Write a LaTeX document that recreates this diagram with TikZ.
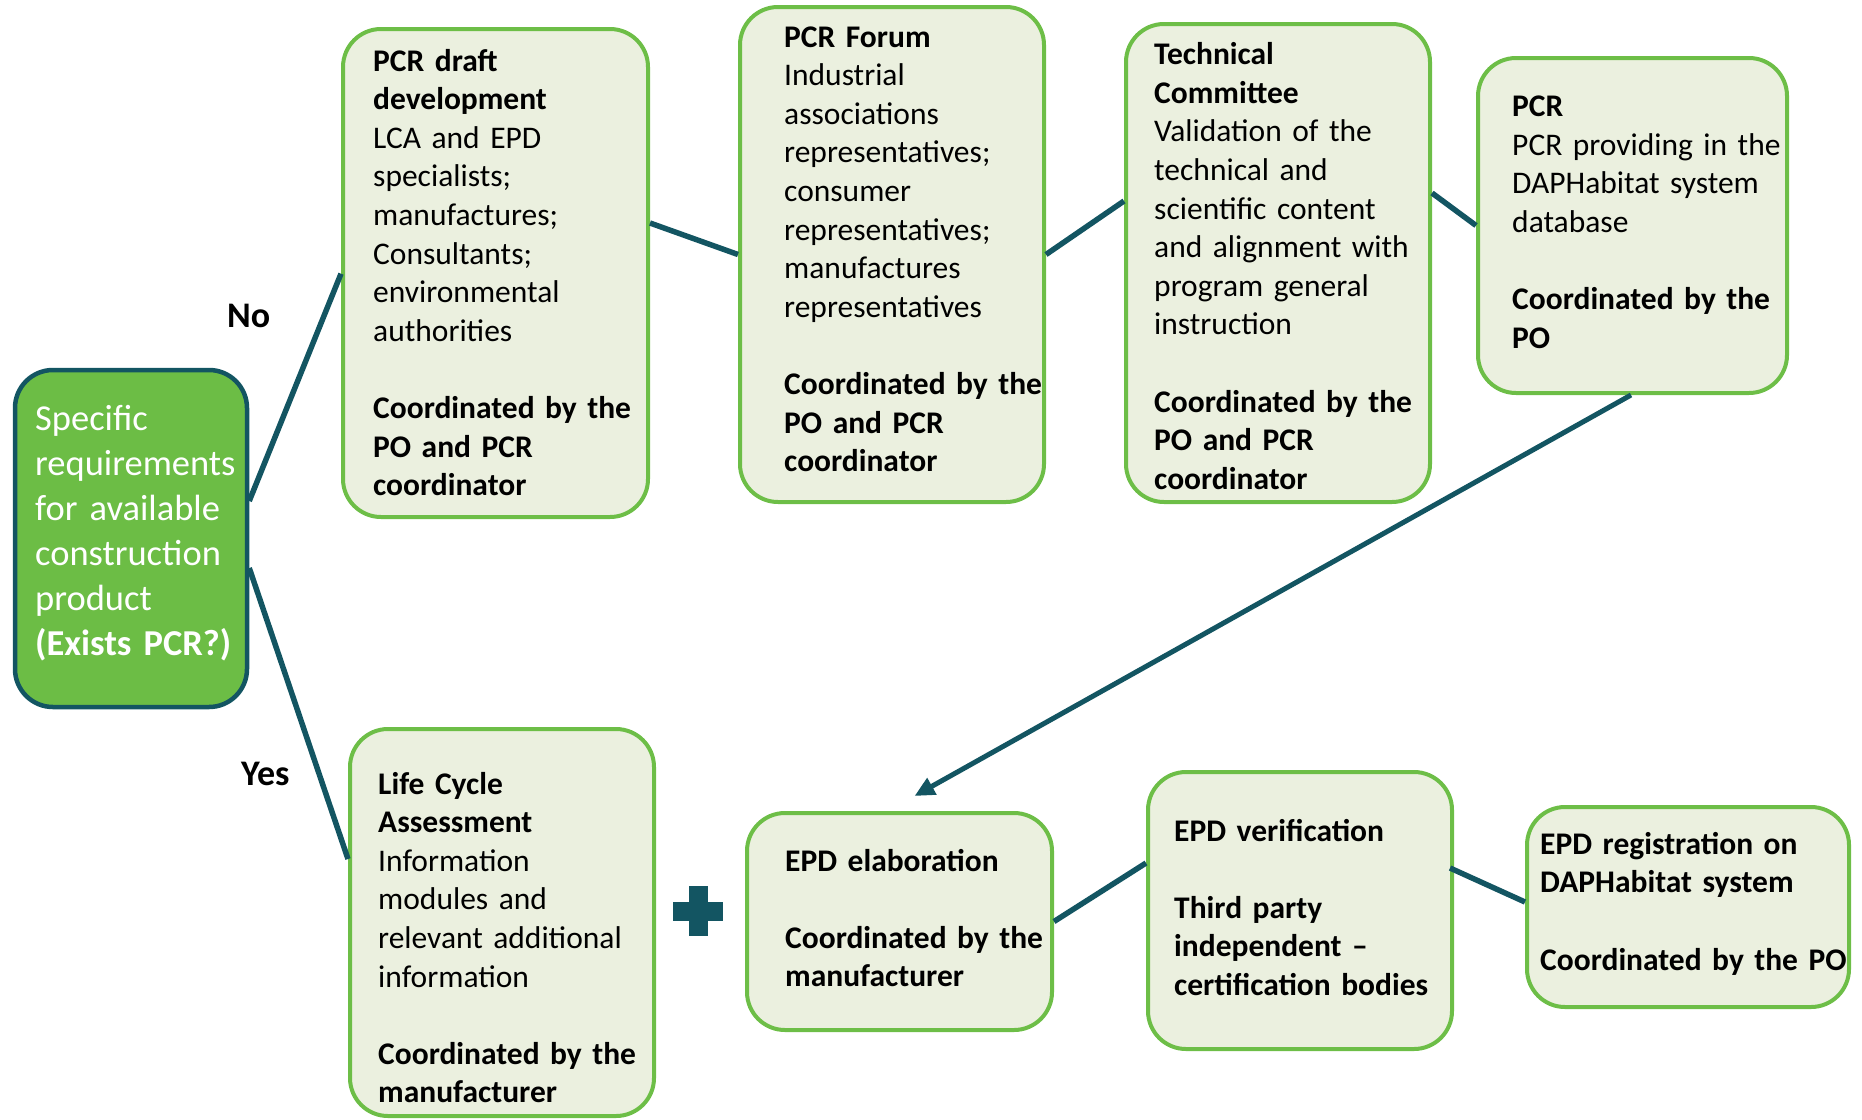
\documentclass[tikz,border=0pt]{standalone}
\usepackage{fontspec}
\setmainfont{Carlito}
\usetikzlibrary{arrows.meta}
\definecolor{boxfill}{HTML}{EBF0DF}
\definecolor{boxline}{HTML}{6DBE47}
\definecolor{connc}{HTML}{135562}
\definecolor{startfill}{HTML}{6CBD45}
\begin{document}
\begin{tikzpicture}[x=1pt,y=-1pt,
  box/.style={draw=boxline, line width=4pt, fill=boxfill, rounded corners=38pt, inner sep=0pt},
  txt/.style={anchor=base west, align=left, text width=330pt, inner sep=0pt, font=\fontsize{31.5}{38.6}\selectfont},
  conn/.style={draw=connc, line width=5.5pt},
  lbl/.style={anchor=base west, inner sep=0pt, font=\fontsize{36}{44}\selectfont\bfseries}
]
\useasboundingbox (0,0) rectangle (1862,1119);

% boxes
\node[box, fill=startfill, draw=connc, line width=4.5pt, minimum width=232pt, minimum height=337pt] (start) at (131,538.5) {};
\node[box, minimum width=305pt, minimum height=488pt] (pcrdraft) at (495.5,273) {};
\node[box, minimum width=304pt, minimum height=495pt] (forum) at (892,254.5) {};
\node[box, minimum width=304pt, minimum height=478pt] (tc) at (1278,263) {};
\node[box, minimum width=309pt, minimum height=335pt] (pcr) at (1632.5,225.5) {};
\node[box, minimum width=304pt, minimum height=387pt] (lca) at (502,922.5) {};
\node[box, minimum width=305pt, minimum height=217pt] (epdel) at (899.5,921.5) {};
\node[box, minimum width=304pt, minimum height=277pt] (verif) at (1300,910.5) {};
\node[box, minimum width=322pt, minimum height=200pt] (reg) at (1688,907) {};

% texts
\node[txt, text=white, font=\fontsize{36.5}{45}\selectfont] (start-t) at (35,430)
  {Specific\\requirements\\for available\\construction\\product\\\textbf{(Exists PCR?)}};
\node[txt] (pcrdraft-t) at (373,71)
  {\textbf{PCR draft}\\\textbf{development}\\LCA and EPD\\specialists;\\manufactures;\\Consultants;\\environmental\\authorities\\[38.6pt]\textbf{Coordinated by the}\\\textbf{PO and PCR}\\\textbf{coordinator}};
\node[txt] (forum-t) at (784,47)
  {\textbf{PCR Forum}\\Industrial\\associations\\representatives;\\consumer\\representatives;\\manufactures\\representatives\\[38.6pt]\textbf{Coordinated by the}\\\textbf{PO and PCR}\\\textbf{coordinator}};
\node[txt] (tc-t) at (1154,64.6)
  {\textbf{Technical}\\\textbf{Committee}\\Validation of the\\technical and\\scientific content\\and alignment with\\program general\\instruction\\[38.6pt]\textbf{Coordinated by the}\\\textbf{PO and PCR}\\\textbf{coordinator}};
\node[txt] (pcr-t) at (1512,116.5)
  {\textbf{PCR}\\PCR providing in the\\DAPHabitat system\\database\\[38.6pt]\textbf{Coordinated by the}\\\textbf{PO}};
\node[txt] (lca-t) at (378,794)
  {\textbf{Life Cycle}\\\textbf{Assessment}\\Information\\modules and\\relevant additional\\information\\[38.6pt]\textbf{Coordinated by the}\\\textbf{manufacturer}};
\node[txt] (epdel-t) at (785,871)
  {\textbf{EPD elaboration}\\[38.6pt]\textbf{Coordinated by the}\\\textbf{manufacturer}};
\node[txt] (verif-t) at (1174,841)
  {\textbf{EPD verification}\\[38.6pt]\textbf{Third party}\\\textbf{independent –}\\\textbf{certification bodies}};
\node[txt] (reg-t) at (1540,854.3)
  {\textbf{EPD registration on}\\\textbf{DAPHabitat system}\\[38.6pt]\textbf{Coordinated by the PO}};

% labels
\node[lbl] (no) at (227,327) {No};
\node[lbl] (yes) at (241,785) {Yes};

% connectors
\draw[conn] ([yshift=37.5pt]start.east) -- ([yshift=-0.7pt]pcrdraft.west);
\draw[conn] ([yshift=-29.5pt]start.east) -- ([yshift=63.5pt]lca.west);
\draw[conn] ([yshift=50pt]pcrdraft.east) -- (forum.west);
\draw[conn] (forum.east) -- ([yshift=62pt]tc.west);
\draw[conn] ([yshift=70pt]tc.east) -- (pcr.west);
\draw[conn] (epdel.east) -- ([yshift=47.5pt]verif.west);
\draw[conn] ([xshift=-4pt,yshift=42.5pt]verif.east) -- ([yshift=5pt]reg.west);
\draw[conn, line width=5pt, -{Triangle[length=20pt,width=18pt]}] ([xshift=-1.5pt]pcr.south) -- ([xshift=15pt,yshift=15pt]epdel.north);

% plus sign
\fill[connc] (688.5,886) rectangle (707.5,936);
\fill[connc] (673,901.5) rectangle (723,920.5);
\end{tikzpicture}
\end{document}
